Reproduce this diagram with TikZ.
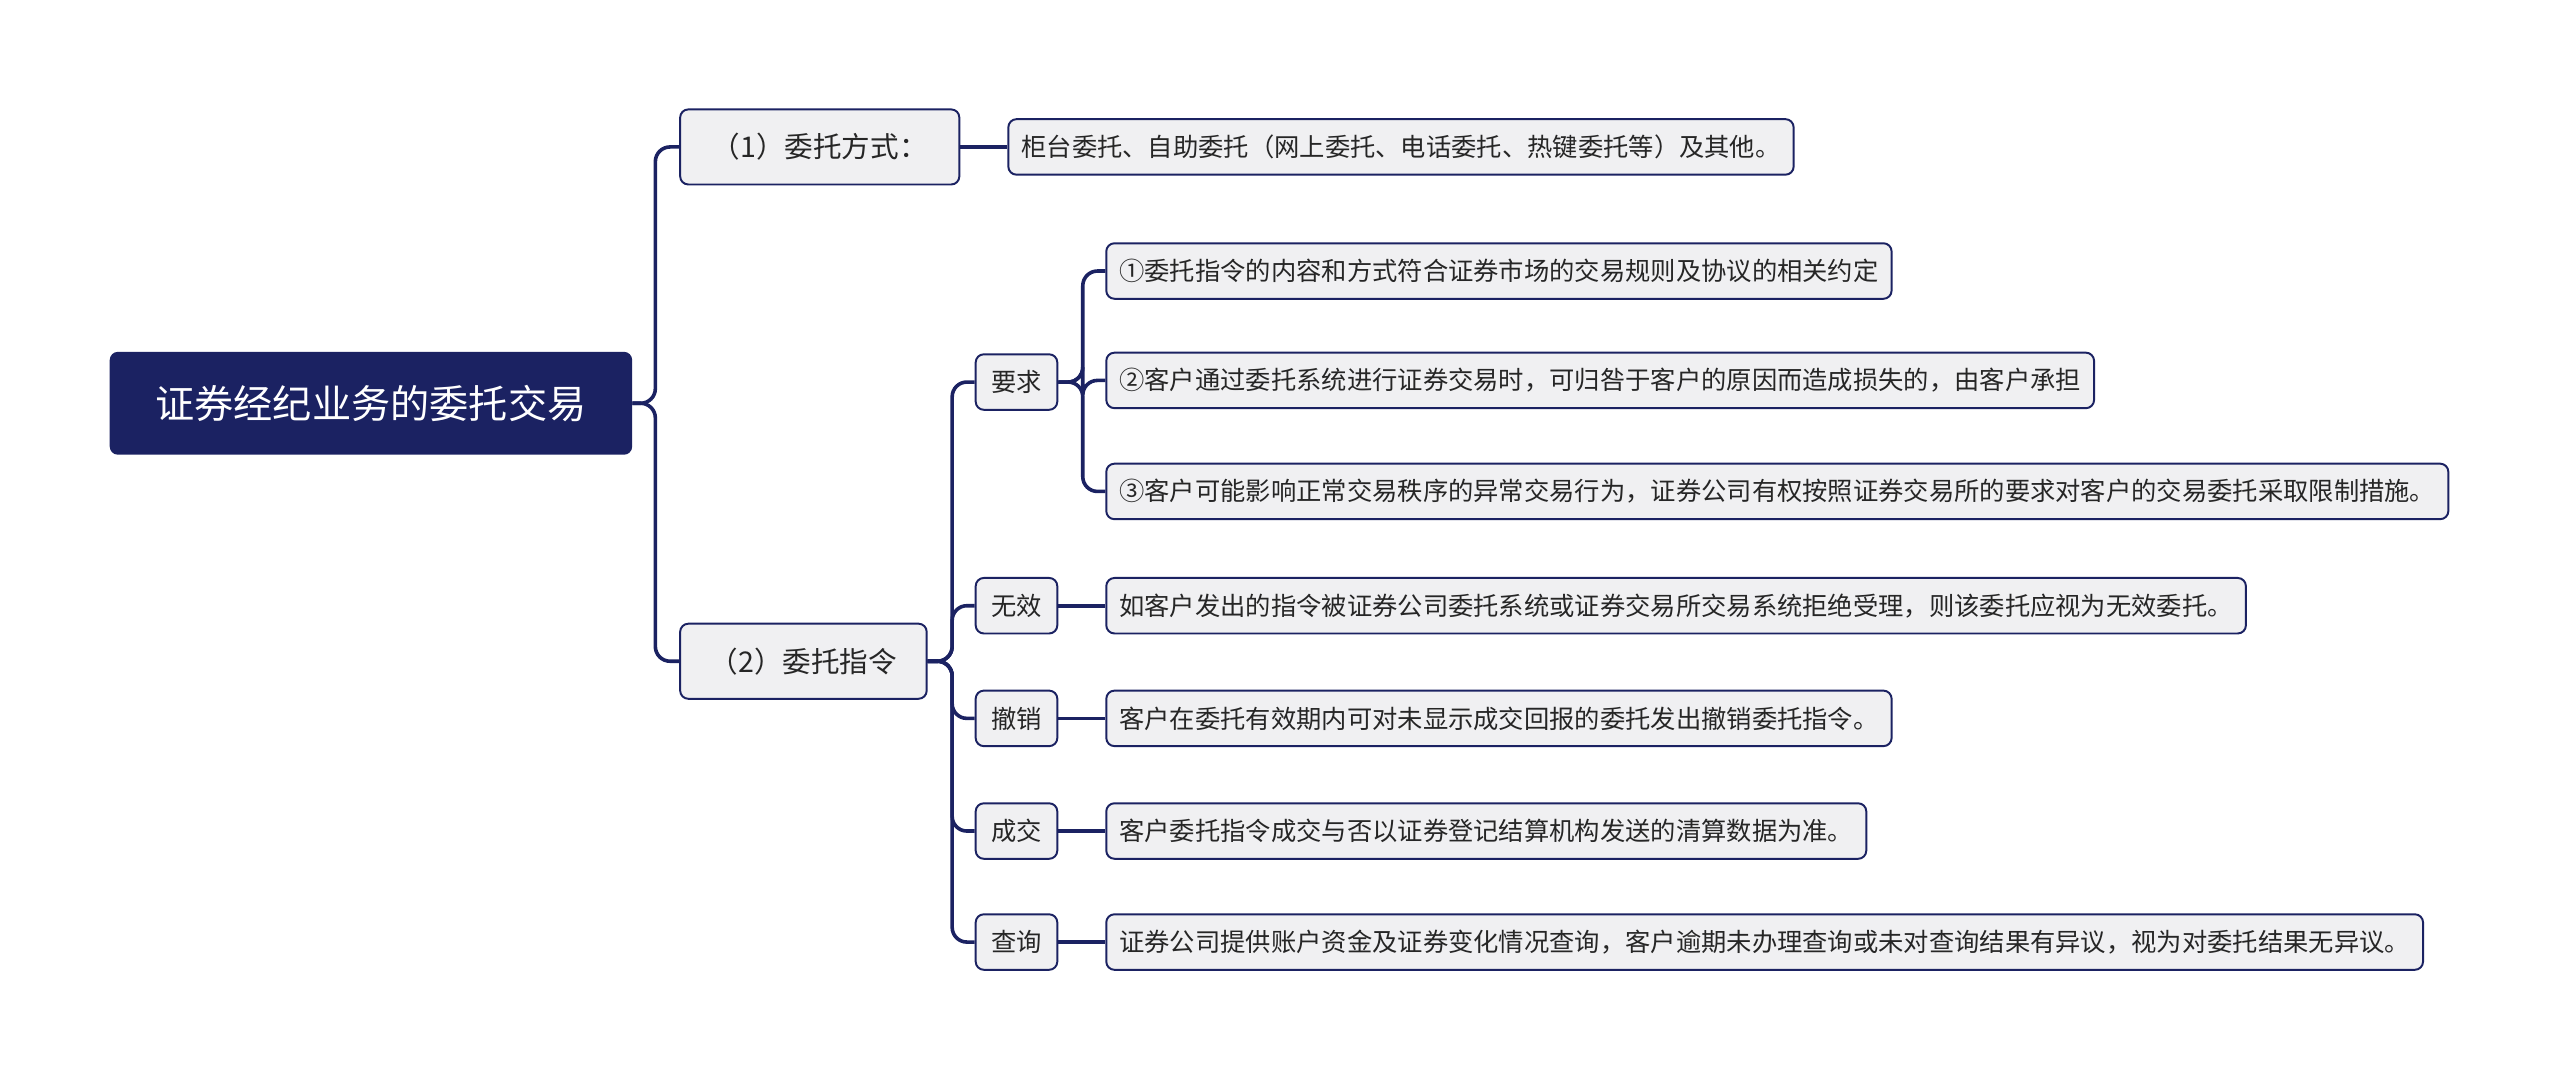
\documentclass[tikz,border=0pt]{standalone}
\usepackage{fontspec}
\setmainfont{Noto Sans CJK SC}
\definecolor{navy}{HTML}{1B2262}
\definecolor{boxbg}{HTML}{F0F0F2}
\begin{document}
\begin{tikzpicture}[x=1pt,y=-1pt,
 box/.style={draw=navy,line width=1.2pt,fill=boxbg,rounded corners=5pt,anchor=west,inner xsep=8pt,inner ysep=0pt,minimum height=34pt,font=\fontsize{15.5}{18}\selectfont,text=black!85},
 mid/.style={box,minimum height=46pt,font=\fontsize{17.5}{20}\selectfont},
 sm/.style={box,minimum width=50pt,inner xsep=4pt},
 link/.style={draw=navy,line width=2.2pt,rounded corners=9pt}]
\useasboundingbox (0,0) rectangle (1568,662);
\node[anchor=west,fill=navy,rounded corners=5pt,minimum height=63pt,minimum width=320pt,text=white,font=\fontsize{24}{28}\selectfont] (root) at (67,247) {证券经纪业务的委托交易};
\node[mid,minimum width=171pt] (a) at (416,90) {（1）委托方式：};
\node[mid,minimum width=151pt] (b) at (416,405) {（2）委托指令};
\node[box] (a1) at (617,90) {柜台委托、自助委托（网上委托、电话委托、热键委托等）及其他。};
\node[sm] (y) at (597,234) {要求};
\node[sm] (w) at (597,371) {无效};
\node[sm] (c) at (597,440) {撤销};
\node[sm] (d) at (597,509) {成交};
\node[sm] (q) at (597,577) {查询};
\node[box] (y1) at (677,166) {①委托指令的内容和方式符合证券市场的交易规则及协议的相关约定};
\node[box] (y2) at (677,233) {②客户通过委托系统进行证券交易时，可归咎于客户的原因而造成损失的，由客户承担};
\node[box] (y3) at (677,301) {③客户可能影响正常交易秩序的异常交易行为，证券公司有权按照证券交易所的要求对客户的交易委托采取限制措施。};
\node[box] (w1) at (677,371) {如客户发出的指令被证券公司委托系统或证券交易所交易系统拒绝受理，则该委托应视为无效委托。};
\node[box] (c1) at (677,440) {客户在委托有效期内可对未显示成交回报的委托发出撤销委托指令。};
\node[box] (d1) at (677,509) {客户委托指令成交与否以证券登记结算机构发送的清算数据为准。};
\node[box] (q1) at (677,577) {证券公司提供账户资金及证券变化情况查询，客户逾期未办理查询或未对查询结果有异议，视为对委托结果无异议。};
\foreach \t in {a,b} \draw[link] (root.east) -- ++(14,0) |- (\t.west);
\draw[link] (a.east) -- (a1.west);
\foreach \t in {y,w,c,d,q} \draw[link] (b.east) -- ++(15,0) |- (\t.west);
\foreach \t in {y1,y2,y3} \draw[link] (y.east) -- ++(15,0) |- (\t.west);
\foreach \s/\t in {w/w1,c/c1,d/d1,q/q1} \draw[link] (\s.east) -- (\t.west);
\end{tikzpicture}
\end{document}
